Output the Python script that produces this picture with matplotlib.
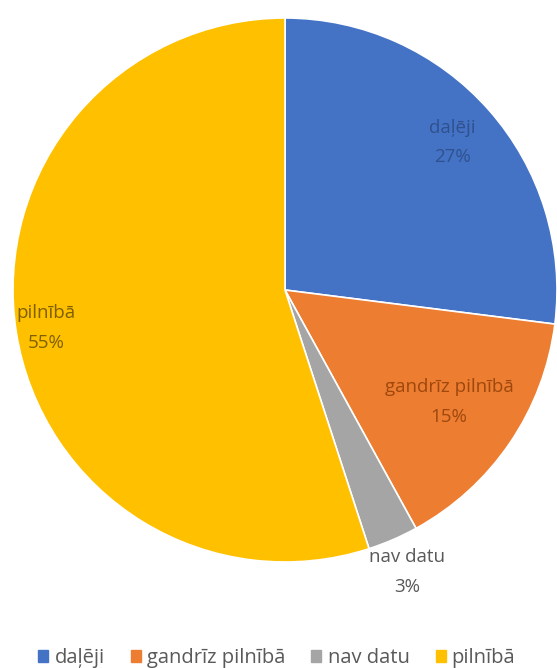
import numpy as np
import matplotlib.pyplot as plt

labels = ['daļēji', 'gandrīz pilnībā', 'nav datu', 'pilnībā']
shares = [27, 15, 3, 55]
colors = ['#4472C4', '#ED7D31', '#A5A5A5', '#FFC000']
text_colors = ['#2F528F', '#9E480E', '#595959', '#7F6000']
label_dist = [0.82, 0.73, 1.13, 0.89]

plt.rcParams['font.family'] = ['Open Sans', 'DejaVu Sans']

fig = plt.figure(figsize=(5.57, 6.68), dpi=100)
ax = fig.add_axes([13 / 557, 1 - 562 / 668, 544 / 557, 544 / 668])

wedges, _ = ax.pie(shares, colors=colors, startangle=90, counterclock=False,
                   radius=1.0, wedgeprops=dict(edgecolor='white', linewidth=1.2))

for w, lab, s, tc, d in zip(wedges, labels, shares, text_colors, label_dist):
    mid = np.deg2rad((w.theta1 + w.theta2) / 2)
    x, y = d * np.cos(mid), d * np.sin(mid)
    ax.text(x, y, f'{lab}\n{s}%', ha='center', va='center', fontsize=13.5,
            color=tc, linespacing=1.85)

ax.set_xlim(-1, 1)
ax.set_ylim(-1, 1)
ax.set_aspect('equal')
ax.axis('off')

handles = [plt.Rectangle((0, 0), 1, 1, color=c) for c in colors]
fig.legend(handles, labels, loc='center', bbox_to_anchor=(0.497, 1 - 658 / 668),
           ncol=4, frameon=False, fontsize=14.5, labelcolor='#595959',
           handlelength=0.5, handleheight=0.5, handletextpad=0.3, columnspacing=1.3)

fig.savefig('out.png', dpi=100)
